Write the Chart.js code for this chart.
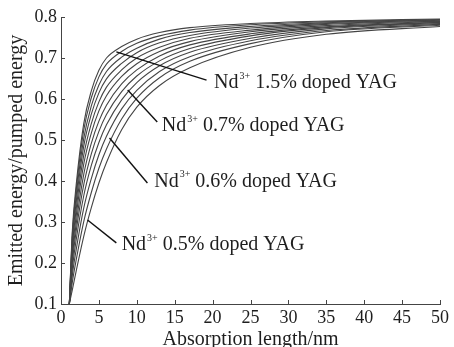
<!DOCTYPE html>
<html lang="en">
<head>
<meta charset="UTF-8">
<title>Emitted energy vs absorption length</title>
<script src="https://cdn.jsdelivr.net/npm/chart.js"></script>
<style>
  html, body { margin: 0; padding: 0; background: #ffffff; }
  #wrap { width: 454px; height: 347px; }
</style>
</head>
<body>
<div id="wrap"><canvas id="chart" width="454" height="347"></canvas></div>
<script>
// Absorption length (nm) sample points shared by every curve
const absorptionLength = [1.1, 1.5, 2, 3, 4, 5, 6, 8, 10, 13, 17, 25, 35, 50];

// Emitted/pumped energy, fastest (highest doping) curve first
const ratio01 = [0.10, 0.280, 0.390, 0.540, 0.620, 0.670, 0.700, 0.728, 0.746, 0.762, 0.774, 0.784, 0.790, 0.795];
const ratio02 = [0.10, 0.271, 0.377, 0.524, 0.603, 0.654, 0.685, 0.716, 0.736, 0.754, 0.768, 0.781, 0.788, 0.794];
const ratio03 = [0.10, 0.261, 0.363, 0.504, 0.583, 0.634, 0.667, 0.702, 0.724, 0.746, 0.762, 0.777, 0.786, 0.793];
const ratio04 = [0.10, 0.251, 0.348, 0.485, 0.563, 0.615, 0.649, 0.687, 0.713, 0.737, 0.755, 0.773, 0.784, 0.792];
const ratio05 = [0.10, 0.239, 0.331, 0.463, 0.540, 0.593, 0.629, 0.671, 0.700, 0.726, 0.748, 0.768, 0.782, 0.790];
const ratio06 = [0.10, 0.228, 0.314, 0.441, 0.517, 0.571, 0.608, 0.655, 0.686, 0.716, 0.740, 0.764, 0.779, 0.789];
const ratio07 = [0.10, 0.215, 0.295, 0.416, 0.492, 0.546, 0.585, 0.637, 0.671, 0.705, 0.732, 0.759, 0.776, 0.787];
const ratio08 = [0.10, 0.202, 0.277, 0.391, 0.466, 0.521, 0.562, 0.618, 0.656, 0.693, 0.723, 0.754, 0.774, 0.786];
const ratio09 = [0.10, 0.187, 0.256, 0.364, 0.438, 0.494, 0.537, 0.598, 0.640, 0.681, 0.714, 0.748, 0.771, 0.784];
const ratio10 = [0.10, 0.171, 0.232, 0.334, 0.406, 0.464, 0.509, 0.576, 0.621, 0.667, 0.703, 0.742, 0.767, 0.782];
const ratio11 = [0.10, 0.154, 0.207, 0.301, 0.372, 0.431, 0.478, 0.551, 0.602, 0.652, 0.692, 0.735, 0.764, 0.780];
const ratio12 = [0.10, 0.135, 0.180, 0.265, 0.335, 0.395, 0.445, 0.525, 0.580, 0.633, 0.676, 0.726, 0.758, 0.777];

const allRatios = [ratio01, ratio02, ratio03, ratio04, ratio05, ratio06,
                   ratio07, ratio08, ratio09, ratio10, ratio11, ratio12];

// Axis ticks
const xTicks = [0, 5, 10, 15, 20, 25, 30, 35, 40, 45, 50];
const yTicks = [0.1, 0.2, 0.3, 0.4, 0.5, 0.6, 0.7, 0.8];

// Labelled doping levels
const dopingLabels = ['1.5%', '0.7%', '0.6%', '0.5%'];

const SERIF = "'Liberation Serif', 'DejaVu Serif', serif";
const INK = '#1e1e1e';

// Where each callout points (data units): curve point, line end, text start
const callouts = [
  { label: dopingLabels[0], from: [7.3, 0.715], to: [19.2, 0.646], text: [20.2, 0.639] },
  { label: dopingLabels[1], from: [8.8, 0.622], to: [12.7, 0.544], text: [13.3, 0.534] },
  { label: dopingLabels[2], from: [6.4, 0.505], to: [11.4, 0.395], text: [12.3, 0.398] },
  { label: dopingLabels[3], from: [3.5, 0.305], to: [7.3, 0.249], text: [8.0, 0.244] }
];

// Inward tick marks + callout lines and text
const decorPlugin = {
  id: 'decor',
  afterDraw(chart) {
    const { ctx, scales: { x, y } } = chart;
    ctx.save();
    ctx.strokeStyle = '#444';
    ctx.lineWidth = 1;
    ctx.beginPath();
    xTicks.forEach(v => {
      const px = Math.round(x.getPixelForValue(v)) + 0.5;
      ctx.moveTo(px, y.bottom);
      ctx.lineTo(px, y.bottom - 4);
    });
    yTicks.forEach(v => {
      const py = Math.round(y.getPixelForValue(v)) + 0.5;
      ctx.moveTo(x.left, py);
      ctx.lineTo(x.left + 4, py);
    });
    ctx.stroke();

    // callouts
    ctx.strokeStyle = '#111';
    ctx.lineWidth = 1.4;
    ctx.fillStyle = INK;
    ctx.textBaseline = 'middle';
    ctx.textAlign = 'left';
    callouts.forEach(c => {
      ctx.beginPath();
      ctx.moveTo(x.getPixelForValue(c.from[0]), y.getPixelForValue(c.from[1]));
      ctx.lineTo(x.getPixelForValue(c.to[0]), y.getPixelForValue(c.to[1]));
      ctx.stroke();

      let tx = x.getPixelForValue(c.text[0]);
      const ty = y.getPixelForValue(c.text[1]);
      ctx.font = '20px ' + SERIF;
      ctx.fillText('Nd', tx, ty);
      tx += ctx.measureText('Nd').width + 1;
      ctx.font = '10px ' + SERIF;
      ctx.fillText('3+', tx, ty - 7);
      tx += ctx.measureText('3+').width;
      ctx.font = '20px ' + SERIF;
      ctx.fillText(' ' + c.label + ' doped YAG', tx, ty);
    });
    ctx.restore();
  }
};

const ctx = document.getElementById('chart').getContext('2d');
new Chart(ctx, {
  type: 'line',
  data: {
    datasets: allRatios.map((vals, i) => ({
      label: 'curve ' + (i + 1),
      data: vals.map((v, j) => ({ x: absorptionLength[j], y: v })),
      borderColor: '#444444',
      borderWidth: 1.1,
      pointRadius: 0,
      fill: false,
      cubicInterpolationMode: 'monotone'
    }))
  },
  options: {
    responsive: false,
    devicePixelRatio: 1,
    animation: false,
    layout: { padding: { top: 17, right: 11, left: 0, bottom: 0 } },
    plugins: {
      legend: { display: false },
      tooltip: { enabled: false }
    },
    scales: {
      x: {
        type: 'linear',
        min: 0,
        max: 50,
        afterBuildTicks: s => { s.ticks = xTicks.map(v => ({ value: v })); },
        afterFit: s => { s.height = 43; },
        grid: { display: false, drawTicks: false, tickLength: 0 },
        border: { display: true, color: '#444', width: 1 },
        ticks: {
          color: INK,
          font: { family: SERIF, size: 18, lineHeight: 1 },
          padding: 5,
          maxRotation: 0,
          autoSkip: false
        },
        title: {
          display: true,
          text: 'Absorption length/nm',
          color: INK,
          font: { family: SERIF, size: 20, lineHeight: 1 },
          padding: { top: 0, bottom: -3 }
        }
      },
      y: {
        type: 'linear',
        min: 0.1,
        max: 0.8,
        afterBuildTicks: s => { s.ticks = yTicks.map(v => ({ value: v })); },
        afterFit: s => { s.width = 61; },
        grid: { display: false, drawTicks: false, tickLength: 0 },
        border: { display: true, color: '#444', width: 1 },
        ticks: {
          color: INK,
          font: { family: SERIF, size: 18, lineHeight: 1 },
          padding: 4,
          callback: v => v.toFixed(1)
        },
        title: {
          display: true,
          text: 'Emitted energy/pumped energy',
          color: INK,
          font: { family: SERIF, size: 20, lineHeight: 1 },
          padding: { top: 7, bottom: 0 }
        }
      }
    }
  },
  plugins: [decorPlugin]
});
</script>
</body>
</html>
